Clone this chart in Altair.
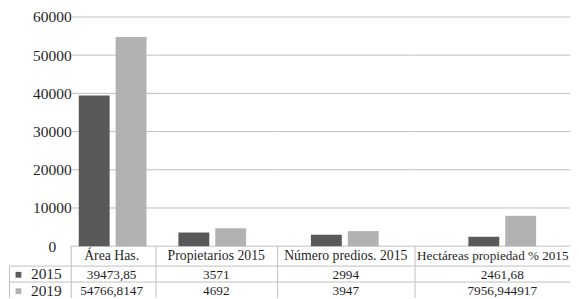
import altair as alt
import pandas as pd

# ---- data ----
categories = ["Área Has.", "Propietarios 2015", "Número predios. 2015", "Hectáreas propiedad % 2015"]
series = ["2015", "2019"]
values_2015 = [39473.85, 3571, 2994, 2461.68]
values_2019 = [54766.8147, 4692, 3947, 7956.944917]
y_ticks = [0, 10000, 20000, 30000, 40000, 50000, 60000]

# ---- style / layout ----
colors = ["#595959", "#b2b2b2"]
col_widths = [85, 122, 138, 156]
col_lead = [8, 23, 34, 54]   # space from column edge to first bar
col_text_x = [41, 61, 69, 88]
head_x = [41, 61, 69, 154.5]
head_align = ["center", "center", "center", "right"]
head_fs = [13.8, 13.8, 13.8, 13.2]
GROUP_W = 68                 # two bars of 31 + 6 gap
INNER = 6 / 37.0
HEADER_W = 62
PLOT_H = 230
TOTAL_H = 282
HEADER_Y = 240
ROW_Y = [258, 274]
LINE_Y = [250, 266]
GRID = "#c0c0c0"
FONT = "Liberation Serif, DejaVu Serif, serif"
TEXT = "#1f1f1f"
TABLE_FS = 13.3
AXIS_FS = 15.5


def fmt(v):
    return str(v).replace(".", ",")


rows = []
for i, c in enumerate(categories):
    for s, vals in zip(series, [values_2015, values_2019]):
        rows.append({"category": c, "series": s, "value": vals[i], "label": fmt(vals[i])})
df = pd.DataFrame(rows)
one = pd.DataFrame({"k": [0]})
ticks_df = pd.DataFrame({"tick": y_ticks})

color_enc = alt.Color("series:N", scale=alt.Scale(domain=series, range=colors), legend=None)


def hrule(x1, x2, y):
    return alt.Chart(one).mark_rule(color=GRID, strokeWidth=1).encode(
        x=alt.value(x1), x2=alt.value(x2), y=alt.value(y)
    )


def vrule(x, y1, y2):
    return alt.Chart(one).mark_rule(color=GRID, strokeWidth=1).encode(
        x=alt.value(x), y=alt.value(y1), y2=alt.value(y2)
    )


# ---- row header panel ----
legend_df = pd.DataFrame({"series": series})
row_scale = alt.Scale(type="point", domain=series, range=[ROW_Y[0] + 0.7, ROW_Y[1] + 1.2], padding=0)
squares = alt.Chart(legend_df).mark_square(size=34, opacity=1).encode(
    x=alt.value(9.5),
    y=alt.Y("series:N", scale=row_scale, axis=None),
    color=color_enc,
)
leg_text = alt.Chart(legend_df).mark_text(
    align="left", baseline="middle", font=FONT, fontSize=AXIS_FS, color=TEXT, dy=-0.5
).encode(
    x=alt.value(22),
    y=alt.Y("series:N", scale=row_scale, axis=None),
    text="series:N",
)
header_panel = alt.layer(
    squares,
    leg_text,
    hrule(0, HEADER_W, LINE_Y[0]),
    hrule(0, HEADER_W, LINE_Y[1]),
    vrule(0.5, LINE_Y[0], TOTAL_H),
).properties(width=HEADER_W, height=TOTAL_H)

# ---- category panels ----
y_scale = alt.Scale(domain=[0, 60000], range=[PLOT_H, 0], nice=False)
panels = [header_panel]
for i, cat in enumerate(categories):
    W = col_widths[i]
    lead = col_lead[i]
    sub = df[df["category"] == cat]
    grid = alt.Chart(ticks_df).mark_rule(color=GRID, strokeWidth=1).encode(
        y=alt.Y(
            "tick:Q",
            scale=y_scale,
            axis=alt.Axis(
                values=y_ticks,
                format="d",
                grid=False,
                ticks=False,
                tickSize=0,
                domain=False,
                labels=(i == 0),
                labelFont=FONT,
                labelFontSize=AXIS_FS,
                labelColor=TEXT,
                labelAlign="center",
                labelPadding=19,
                title=None,
            ),
        ),
        x=alt.value(0),
        x2=alt.value(W),
    )
    bars = alt.Chart(sub).mark_bar().encode(
        x=alt.X(
            "series:N",
            scale=alt.Scale(domain=series, paddingInner=INNER, paddingOuter=0,
                            range=[lead, lead + GROUP_W]),
            axis=None,
        ),
        y=alt.Y("value:Q", scale=y_scale),
        color=color_enc,
    )
    header = alt.Chart(sub.head(1)).mark_text(
        align=head_align[i], baseline="middle", font=FONT, fontSize=head_fs[i], color=TEXT
    ).encode(x=alt.value(head_x[i]), y=alt.value(HEADER_Y), text="category:N")
    layers = [grid, bars, header]
    for k, s in enumerate(series):
        layers.append(
            alt.Chart(sub[sub["series"] == s]).mark_text(
                align="center", baseline="middle", font=FONT, fontSize=TABLE_FS, color=TEXT
            ).encode(x=alt.value(col_text_x[i]), y=alt.value(ROW_Y[k] + 1), text="label:N")
        )
    for ly in LINE_Y:
        layers.append(hrule(0, W, ly))
    layers.append(vrule(0.5, PLOT_H, TOTAL_H))
    panels.append(alt.layer(*layers).properties(width=W, height=TOTAL_H))

chart = (
    alt.hconcat(*panels, spacing=0, bounds="flush")
    .resolve_scale(x="independent", y="independent")
    .resolve_axis(y="independent")
    .configure_view(stroke=None)
    .configure_axis(labelFont=FONT)
    .configure_text(font=FONT)
    .properties(padding={"left": 0, "top": 1.5, "right": 0, "bottom": 0}, background="white")
)

chart.save("out.html", embed_options={"renderer": "svg", "actions": False})
